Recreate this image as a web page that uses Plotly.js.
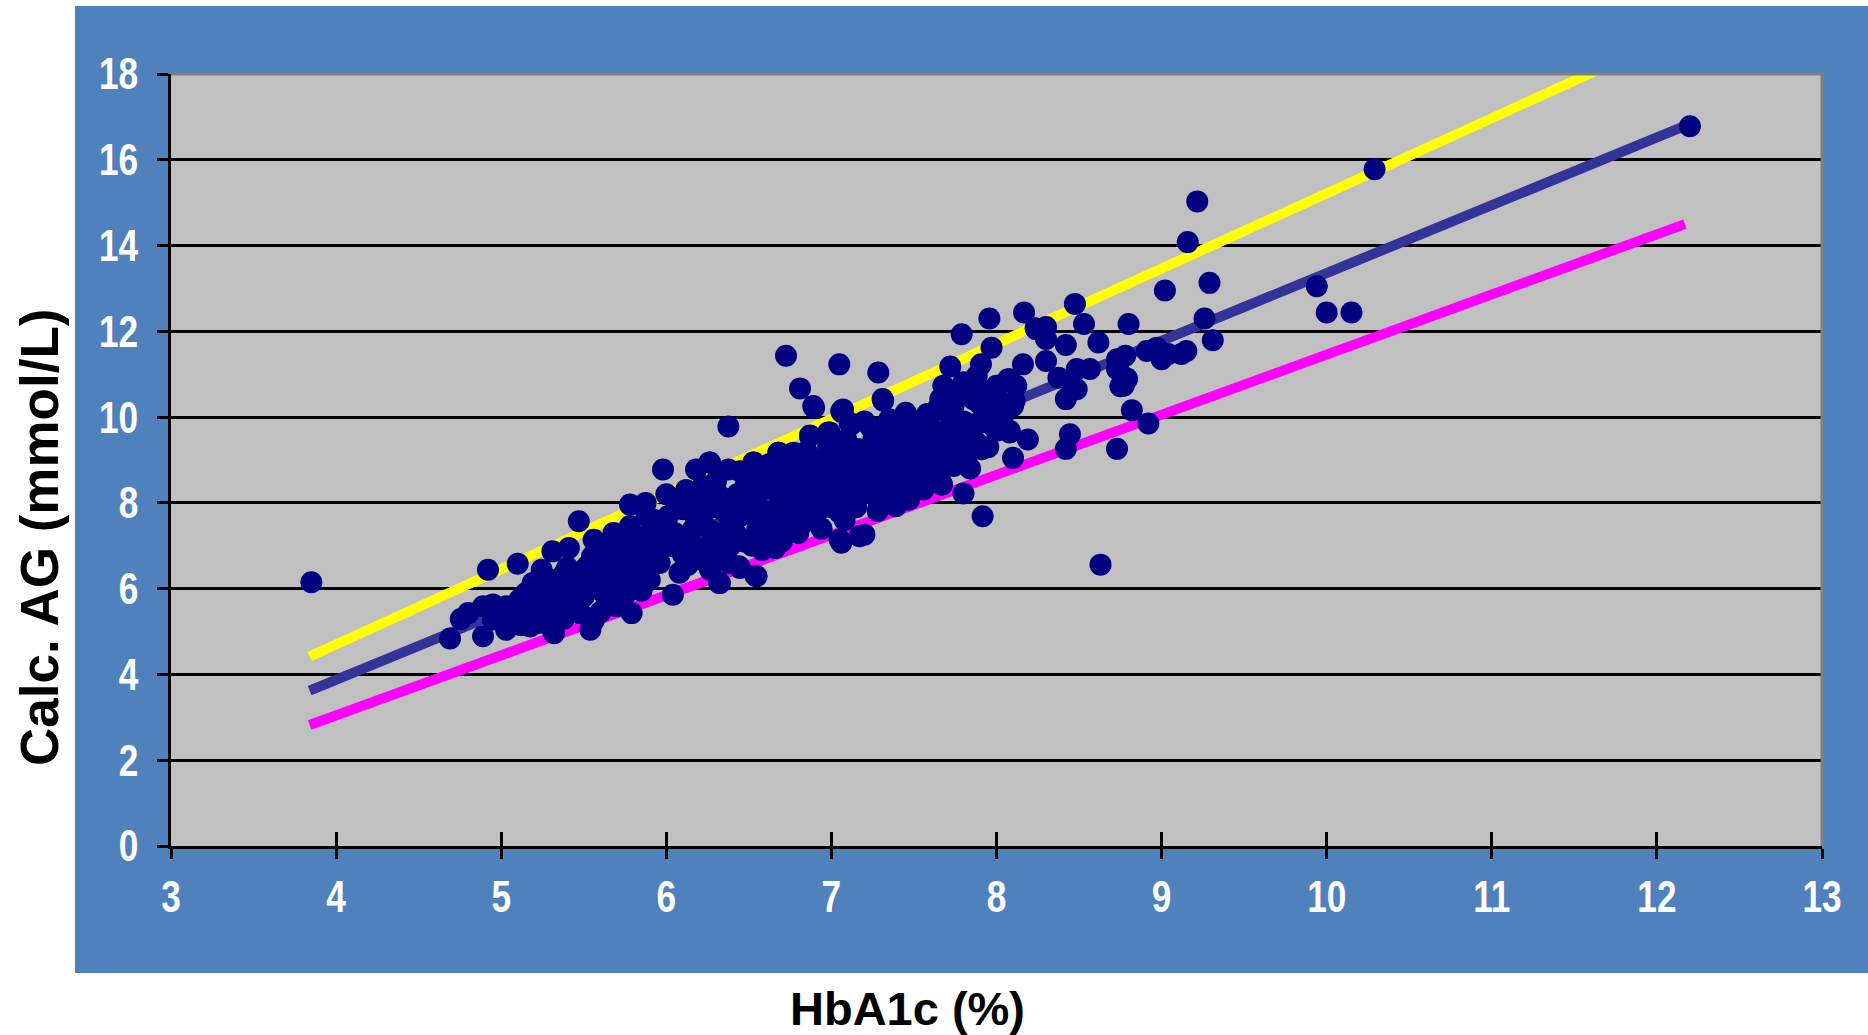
<!DOCTYPE html>
<html><head><meta charset="utf-8">
<script src="https://cdn.plot.ly/plotly-3.0.1.min.js"></script>
<style>html,body{margin:0;padding:0;background:#fff;}#chart{width:1868px;height:1035px;}</style>
</head><body><div id="chart"></div>
<script>
// HbA1c (%) of each patient
const hba1c = [
3.85,4.69,4.755,4.80,4.89,4.89,4.95,4.95,4.92,5.03,5.03,5.10,5.11,5.13,5.175,5.19,5.245,5.28,5.30,5.31,
5.32,5.36,5.40,5.41,5.44,5.47,5.48,5.50,5.52,5.54,5.56,5.58,5.64,5.70,5.72,5.76,5.78,5.78,5.79,5.84,
5.84,5.87,5.88,5.92,5.92,5.98,
5.05,5.08,5.15,5.20,5.22,5.25,5.25,5.30,5.35,5.38,5.40,5.45,5.50,5.46,5.55,5.60,5.62,5.65,5.68,5.74,
5.76,5.80,5.82,5.86,5.90,5.88,5.66,5.60,5.56,
5.875,5.88,5.92,5.96,6.01,6.04,6.04,6.08,6.10,6.16,6.18,6.20,6.245,6.265,6.265,6.305,6.325,6.325,6.376,6.376,
6.386,6.386,6.446,6.446,6.466,6.50,6.527,6.547,6.55,6.57,6.608,6.65,6.678,6.69,6.725,6.729,6.77,6.77,6.79,6.81,
6.83,6.87,6.89,6.895,6.93,6.97,6.99,7.03,7.048,7.05,7.05,7.05,7.062,7.09,7.17,
5.95,6.00,6.05,6.10,6.12,6.15,6.20,6.22,6.25,6.28,6.30,6.35,6.40,6.42,6.45,6.48,6.52,6.55,6.60,6.62,
6.66,6.70,6.72,6.75,6.80,6.82,6.85,6.88,6.90,6.92,6.95,6.98,7.00,6.60,6.70,6.80,6.30,6.15,
7.07,7.09,7.09,7.11,7.11,7.13,7.17,7.17,7.20,7.06,7.24,7.254,7.254,7.284,7.284,7.314,7.314,7.35,7.355,7.355,
7.375,7.385,7.456,7.466,7.476,7.476,7.537,7.557,7.557,7.577,7.60,7.64,7.66,7.668,7.678,7.72,7.72,7.74,7.74,7.78,
7.789,7.80,7.80,7.82,7.86,7.88,7.90,7.906,7.91,7.916,7.957,7.97,7.98,8.00,8.00,8.08,8.08,8.10,8.10,8.12,
8.16,8.167,8.19,8.237,8.30,8.30,
6.89,7.06,7.31,7.58,7.66,6.87,6.98,7.12,6.26,6.53,6.68,
7.15,7.20,7.30,7.40,7.45,7.50,7.55,7.60,7.65,7.70,7.75,7.85,7.90,7.95,8.05,7.45,7.70,7.25,7.40,
7.67,7.47,7.39,7.28,6.66,6.44,6.54,6.32,
8.07,8.11,8.00,7.98,8.08,
8.375,8.42,8.42,8.42,8.445,8.475,8.486,8.486,8.53,8.566,8.617,8.63,8.73,8.73,8.73,8.77,8.78,8.79,8.80,8.82,
8.91,8.92,8.97,9.00,9.02,9.04,9.12,9.15,9.158,9.216,9.26,9.29,9.31,9.94,10.00,10.15,10.29,12.20,
8.74,8.75,8.79,8.45,8.30,8.24,
5.12,5.18,5.27,5.33,5.42,5.48,5.22,5.38,
5.62,5.67,5.72,5.75,5.80,5.85,5.90,5.68,5.60,
6.02,6.06,6.08,6.13,6.18,6.22,6.27,6.32,6.36,6.40,6.43,6.47,6.50,6.38,6.20,
6.53,6.58,6.62,6.64,6.68,6.72,6.74,6.78,6.82,6.86,6.90,6.94,6.96,6.99,6.58,
7.02,7.05,7.08,7.12,7.15,7.18,7.22,7.26,7.30,7.33,7.36,7.40,7.43,7.48,7.50,
7.52,7.58,7.62,7.66,7.70,7.74,7.77,7.80,7.84,7.88,7.92,7.95,7.99
];
// Calculated average glucose (mmol/L) of each patient
const calcAG = [
6.15,4.84,5.29,5.43,4.89,5.59,5.63,5.28,6.44,5.04,5.59,6.58,5.74,5.43,5.12,6.13,6.44,5.51,6.21,6.87,
4.96,5.82,5.59,6.95,6.21,7.57,5.43,5.82,6.52,5.04,7.14,6.05,5.67,5.59,6.99,5.90,7.96,7.46,5.43,6.29,
6.99,7.96,6.52,6.83,7.61,8.78,
5.30,5.50,5.90,5.60,6.00,5.80,5.30,5.10,6.10,5.30,6.50,6.00,6.30,5.65,6.75,6.40,5.90,6.20,6.60,6.40,
6.70,6.00,7.20,6.70,7.30,7.70,6.95,5.45,5.25,
8.00,6.21,6.75,6.60,7.69,6.99,5.86,6.37,7.85,7.38,8.78,6.68,8.16,8.94,6.44,7.22,8.16,6.13,8.78,9.78,
7.54,6.99,8.74,6.48,8.24,7.92,8.94,6.29,7.38,7.54,8.55,7.07,9.17,7.69,11.43,8.78,9.17,7.99,8.16,10.67,
7.54,9.57,8.94,10.22,7.85,8.62,9.64,8.16,11.23,8.78,7.77,7.14,10.12,8.31,7.22,
7.20,8.20,7.30,6.80,8.30,7.00,7.90,7.60,7.00,6.80,8.50,7.80,8.00,7.30,7.70,8.40,7.00,8.20,7.80,8.90,
8.30,8.60,7.40,8.40,7.80,8.80,9.20,8.30,7.60,9.00,8.10,9.30,7.90,7.20,7.10,7.30,7.90,8.00,
10.18,9.48,8.16,9.87,8.94,8.62,9.25,8.16,7.26,7.07,9.75,9.48,8.78,11.04,7.85,10.38,8.47,9.95,9.32,8.94,
8.31,8.00,9.32,8.08,9.71,8.55,8.78,9.25,8.31,10.03,9.79,10.18,9.40,8.43,10.73,11.18,10.03,10.26,8.86,9.56,
11.93,10.81,8.22,9.09,10.42,10.96,9.87,11.23,9.25,7.69,12.30,11.62,10.42,10.73,9.68,10.88,9.64,10.26,9.05,10.73,
11.23,12.44,9.48,12.07,11.82,11.31,
10.26,10.14,10.42,10.07,10.42,9.56,9.64,9.83,8.94,8.94,9.17,
8.80,9.90,9.10,9.60,8.90,9.00,9.60,8.70,9.00,9.70,9.30,9.60,10.30,9.90,10.10,10.10,8.90,8.20,8.40,
8.43,8.08,7.92,7.81,6.95,6.52,6.30,6.13,
10.88,10.38,10.60,9.79,9.68,
10.92,11.68,10.42,9.26,9.60,12.64,11.12,10.65,12.17,11.12,11.74,6.56,11.35,11.12,9.26,10.73,11.43,10.88,12.17,10.16,
11.54,9.85,11.62,11.35,12.95,11.47,11.47,11.54,14.08,15.03,12.30,13.13,11.79,13.05,12.44,12.44,15.78,16.78,
11.10,10.72,10.90,10.80,12.10,12.05,
5.15,5.45,6.00,5.55,5.85,6.15,5.20,6.35,
6.70,5.75,6.25,7.20,6.55,5.95,6.20,7.30,6.00,
7.30,8.00,7.10,6.55,7.65,8.40,7.35,8.70,7.05,7.60,8.20,7.10,8.60,6.60,6.90,
7.70,8.30,7.50,8.70,7.90,8.20,7.60,8.60,7.70,8.10,8.50,7.40,8.90,8.40,6.90,
8.50,9.10,7.60,9.30,7.90,8.50,9.00,8.60,9.70,8.20,9.00,8.70,9.90,9.50,8.40,
9.90,8.90,9.30,8.70,10.30,9.50,10.60,9.90,8.80,9.40,10.60,9.30,10.10
];
// Regression line and its upper / lower limits
const lineX = [3.84, 12.17];
const regressionY = [3.62, 16.79];
const upperY = [4.42, 19.02];
const lowerY = [2.82, 14.50];
const xTicks = [3,4,5,6,7,8,9,10,11,12,13];
const yTicks = [0,2,4,6,8,10,12,14,16,18];
const xTitle = 'HbA1c (%)';
const yTitle = 'Calc. AG (mmol/L)';

const tickFont = {family: "'Liberation Sans Narrow','Arial Narrow','Liberation Sans',Arial,sans-serif", size: 44, color: '#FFFFFF', weight: 'bold'};
const titleFamily = "'Liberation Sans',Arial,sans-serif";

const traces = [
  {x: lineX, y: upperY, mode: 'lines', line: {color: '#FFFF00', width: 10}, hoverinfo: 'skip', showlegend: false},
  {x: lineX, y: lowerY, mode: 'lines', line: {color: '#FF00FF', width: 10}, hoverinfo: 'skip', showlegend: false},
  {x: lineX, y: regressionY, mode: 'lines', line: {color: '#333399', width: 10}, hoverinfo: 'skip', showlegend: false},
  {x: hba1c, y: calcAG, mode: 'markers', marker: {color: '#000080', size: 22}, showlegend: false},
  {x: lineX, y: regressionY, xaxis: 'x2', mode: 'none', hoverinfo: 'skip', showlegend: false}
];

const W = 1868, H = 1035, L = 171, R = 46, T = 74, B = 189;
const pw = W - L - R, ph = H - T - B;
const px = v => (v - L) / pw;
const py = v => (H - B - v) / ph;

const layout = {
  width: W, height: H,
  margin: {l: L, r: R, t: T, b: B, pad: 0},
  paper_bgcolor: '#4F81BD',
  plot_bgcolor: '#C0C0C0',
  showlegend: false,
  xaxis: {
    range: [3, 13], tickvals: xTicks, ticktext: xTicks.map(String),
    ticks: 'outside', ticklen: 10, tickwidth: 3, tickcolor: '#000',
    showline: true, linecolor: '#000', linewidth: 3,
    showgrid: false, zeroline: false, tickfont: tickFont, ticklabelstandoff: 0,
    fixedrange: true
  },
  xaxis2: {
    overlaying: 'x', matches: 'x', anchor: 'y', side: 'bottom', range: [3, 13], tickvals: xTicks,
    ticks: 'inside', ticklen: 14, tickwidth: 3, tickcolor: '#000',
    showticklabels: false, showline: false, showgrid: false, zeroline: false, fixedrange: true
  },
  yaxis: {
    range: [0, 18], tickvals: yTicks, ticktext: yTicks.map(String),
    ticks: 'outside', ticklen: 11, tickwidth: 3, tickcolor: '#000',
    showline: true, linecolor: '#000', linewidth: 3,
    showgrid: true, gridcolor: '#000', gridwidth: 3, zeroline: false,
    tickfont: tickFont, ticklabelstandoff: 10, fixedrange: true
  },
  shapes: [
    {type: 'rect', xref: 'paper', yref: 'paper', x0: px(0), x1: px(75), y0: py(H), y1: py(0), fillcolor: '#FFFFFF', line: {width: 0}, layer: 'below'},
    {type: 'rect', xref: 'paper', yref: 'paper', x0: px(0), x1: px(W), y0: py(6), y1: py(0), fillcolor: '#FFFFFF', line: {width: 0}, layer: 'below'},
    {type: 'rect', xref: 'paper', yref: 'paper', x0: px(0), x1: px(W), y0: py(H), y1: py(973), fillcolor: '#FFFFFF', line: {width: 0}, layer: 'below'},
    {type: 'line', xref: 'paper', yref: 'paper', x0: 0, x1: 1.001, y0: 1, y1: 1, line: {color: '#808080', width: 3}, layer: 'above'},
    {type: 'line', xref: 'paper', yref: 'paper', x0: 1, x1: 1, y0: 0, y1: 1, line: {color: '#808080', width: 3}, layer: 'above'}
  ],
  annotations: [
    {text: yTitle, xref: 'paper', yref: 'paper', x: px(39), y: py(538), xanchor: 'center', yanchor: 'middle',
     textangle: -90, showarrow: false, font: {family: titleFamily, size: 53, color: '#000', weight: 'bold'}},
    {text: xTitle, xref: 'paper', yref: 'paper', x: px(907), y: py(1008), xanchor: 'center', yanchor: 'middle',
     showarrow: false, font: {family: titleFamily, size: 47, color: '#000', weight: 'bold'}}
  ]
};

Plotly.newPlot('chart', traces, layout, {displayModeBar: false, staticPlot: true}).then(function (gd) {
  // narrow the tick labels horizontally, like the condensed face of the original
  const s = 0.8;
  gd.querySelectorAll('.xtick text, .ytick text').forEach(function (t) {
    const x = parseFloat(t.getAttribute('x')) || 0;
    t.setAttribute('x', x / s);
    const tr = t.getAttribute('transform') || '';
    t.setAttribute('transform', tr + ' scale(' + s + ',1)');
  });
});
</script>
</body></html>
